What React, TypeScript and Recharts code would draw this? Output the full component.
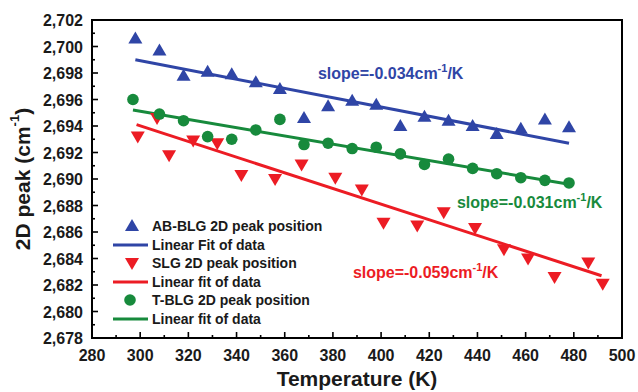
import { ComposedChart, Scatter, Line, XAxis, YAxis, Legend, ReferenceDot, ReferenceArea, Label } from "recharts";

// AB-BLG 2D peak position
const abTemp = [298, 308, 318, 328, 338, 348, 358, 368, 378, 388, 398, 408, 418, 428, 438, 448, 458, 468, 478];
const abPeak = [2700.6, 2699.7, 2697.8, 2698.1, 2697.9, 2697.3, 2696.8, 2694.6, 2695.5, 2695.9, 2695.6, 2694.0, 2694.7, 2694.4, 2694.0, 2693.4, 2693.8, 2694.5, 2693.9];
const abFitTemp = [298, 478];
const abFitPeak = [2699.0, 2692.7];

// SLG 2D peak position
const slgTemp = [299, 307, 312, 322, 332, 342, 356, 367, 381, 392, 401, 415, 426, 439, 451, 461, 472, 486, 492];
const slgPeak = [2693.2, 2694.6, 2691.8, 2692.9, 2692.7, 2690.3, 2690.0, 2691.1, 2690.1, 2689.2, 2686.7, 2686.5, 2687.5, 2686.3, 2684.7, 2684.0, 2682.6, 2683.7, 2682.1];
const slgFitTemp = [298.5, 491.5];
const slgFitPeak = [2694.1, 2682.7];

// T-BLG 2D peak position
const tTemp = [297, 308, 318, 328, 338, 348, 358, 368, 378, 388, 398, 408, 418, 428, 438, 448, 458, 468, 478];
const tPeak = [2696.0, 2694.9, 2694.4, 2693.2, 2693.0, 2693.7, 2694.5, 2692.6, 2692.7, 2692.3, 2692.4, 2691.9, 2691.1, 2691.5, 2690.8, 2690.4, 2690.1, 2689.9, 2689.7];
const tFitTemp = [297, 478];
const tFitPeak = [2695.2, 2689.6];

const xTicks = [280, 290, 300, 310, 320, 330, 340, 350, 360, 370, 380, 390, 400, 410, 420, 430, 440, 450, 460, 470, 480, 490, 500];
const yTicks = [2678, 2679, 2680, 2681, 2682, 2683, 2684, 2685, 2686, 2687, 2688, 2689, 2690, 2691, 2692, 2693, 2694, 2695, 2696, 2697, 2698, 2699, 2700, 2701, 2702];

const legendNames = [
  "AB-BLG 2D peak position",
  "Linear Fit of data",
  "SLG 2D peak position",
  "Linear fit of data",
  "T-BLG 2D peak position",
  "Linear fit of data",
];

const slopes = ["-0.034", "-0.031", "-0.059"];

const BLUE = "#2f45a6";
const RED = "#ec1c24";
const GREEN = "#178a3c";
const INK = "#000";
const FONT = "'Liberation Sans', Arial, sans-serif";

const W = 638;
const H = 392;
const MARGIN = { top: 20, right: 16, bottom: 0, left: 0 };

// let the chart use the whole 638x392 window
if (typeof document !== "undefined") document.body.style.margin = "0";

const toPoints = (xs: number[], ys: number[]) => xs.map((x, i) => ({ x, y: ys[i] }));

const TriUp = (props: any) => {
  const { cx, cy, fill } = props;
  return <path d={`M${cx},${cy - 7} L${cx + 7},${cy + 5} L${cx - 7},${cy + 5} Z`} fill={fill} />;
};
const TriDown = (props: any) => {
  const { cx, cy, fill } = props;
  return <path d={`M${cx},${cy + 7} L${cx + 7},${cy - 5} L${cx - 7},${cy - 5} Z`} fill={fill} />;
};
const Circle = (props: any) => {
  const { cx, cy, fill } = props;
  return <circle cx={cx} cy={cy} r={5.8} fill={fill} />;
};

// tick labels (main chart)
const XLabelTick = (props: any) => {
  const { x, y, payload } = props;
  if (payload.value % 20 !== 0) return <g />;
  return (
    <text x={x} y={y + 23} textAnchor="middle" fontSize={16} fontWeight="bold" fill="#1a1a1a" fontFamily={FONT}>
      {payload.value}
    </text>
  );
};
const YLabelTick = (props: any) => {
  const { x, y, payload } = props;
  if ((payload.value - 2678) % 2 !== 0) return <g />;
  return (
    <text x={x - 9} y={y + 6} textAnchor="end" fontSize={16} fontWeight="bold" fill="#1a1a1a" fontFamily={FONT}>
      {payload.value.toLocaleString("en-US")}
    </text>
  );
};

// inward tick marks (frame chart)
const XMarkTick = (props: any) => {
  const { x, y, payload } = props;
  const len = payload.value % 20 === 0 ? 6 : 3;
  return <path d={`M${x},${y} L${x},${y - len}`} stroke={INK} strokeWidth={1.6} />;
};
const YMarkTick = (props: any) => {
  const { x, y, payload } = props;
  const len = (payload.value - 2678) % 2 === 0 ? 6 : 3;
  return <path d={`M${x},${y} L${x + len},${y}`} stroke={INK} strokeWidth={1.6} />;
};

const slopeText = (value: string, color: string) => (p: any) => (
  <text x={p.cx} y={p.cy + 6} fill={color} fontSize={16} fontWeight="bold" fontFamily={FONT}>
    slope={value}cm
    <tspan dy={-7} fontSize={11}>-1</tspan>
    <tspan dy={7}>/K</tspan>
  </text>
);

const LegendBox = () => {
  const colors = [BLUE, BLUE, RED, RED, GREEN, GREEN];
  return (
    <div style={{ fontFamily: FONT, fontWeight: "bold", fontSize: 14, color: "#1a1a1a" }}>
      {legendNames.map((name, i) => (
        <div key={i} style={{ display: "flex", alignItems: "center", height: 18.5 }}>
          <svg width={44} height={18}>
            {i === 0 && <TriUp cx={24} cy={9} fill={colors[i]} />}
            {i === 2 && <TriDown cx={24} cy={9} fill={colors[i]} />}
            {i === 4 && <Circle cx={22} cy={9} fill={colors[i]} />}
            {i % 2 === 1 && <rect x={5} y={7.5} width={35} height={3} fill={colors[i]} />}
          </svg>
          <span>{name}</span>
        </div>
      ))}
    </div>
  );
};

export default function App() {
  return (
    <div style={{ position: "relative", width: W, height: H }}>
      <ComposedChart width={W} height={H} margin={MARGIN}>
        <XAxis
          type="number"
          dataKey="x"
          domain={[280, 500]}
          ticks={xTicks}
          interval={0}
          tick={<XLabelTick />}
          tickLine={false}
          tickSize={0}
          tickMargin={0}
          height={54}
          axisLine={false}
          allowDataOverflow
        >
          <Label
            content={(p: any) => (
              <text x={p.viewBox.x + p.viewBox.width / 2} y={p.viewBox.y + 48} textAnchor="middle" fontSize={21} fontWeight="bold" fill="#1a1a1a" fontFamily={FONT}>
                Temperature (K)
              </text>
            )}
          />
        </XAxis>
        <YAxis
          type="number"
          dataKey="y"
          domain={[2678, 2702]}
          ticks={yTicks}
          interval={0}
          tick={<YLabelTick />}
          tickLine={false}
          tickSize={0}
          tickMargin={0}
          width={92}
          axisLine={false}
          allowDataOverflow
        >
          <Label
            content={(p: any) => {
              const cx = p.viewBox.x + 22;
              const cy = p.viewBox.y + p.viewBox.height / 2;
              return (
                <text x={cx} y={cy} transform={`rotate(-90 ${cx} ${cy})`} textAnchor="middle" dominantBaseline="central" fontSize={21} fontWeight="bold" fill="#1a1a1a" fontFamily={FONT}>
                  2D peak (cm
                  <tspan dy={-8} fontSize={13}>-1</tspan>
                  <tspan dy={8}>)</tspan>
                </text>
              );
            }}
          />
        </YAxis>

        <Line data={toPoints(abFitTemp, abFitPeak)} dataKey="y" stroke={BLUE} strokeWidth={3} dot={false} isAnimationActive={false} />
        <Line data={toPoints(slgFitTemp, slgFitPeak)} dataKey="y" stroke={RED} strokeWidth={3} dot={false} isAnimationActive={false} />
        <Line data={toPoints(tFitTemp, tFitPeak)} dataKey="y" stroke={GREEN} strokeWidth={3} dot={false} isAnimationActive={false} />

        <Scatter data={toPoints(abTemp, abPeak)} fill={BLUE} shape={<TriUp />} isAnimationActive={false} />
        <Scatter data={toPoints(slgTemp, slgPeak)} fill={RED} shape={<TriDown />} isAnimationActive={false} />
        <Scatter data={toPoints(tTemp, tPeak)} fill={GREEN} shape={<Circle />} isAnimationActive={false} />

        <ReferenceDot x={373.8} y={2698.0} r={0} shape={slopeText(slopes[0], BLUE)} />
        <ReferenceDot x={431.5} y={2688.3} r={0} shape={slopeText(slopes[1], GREEN)} />
        <ReferenceDot x={388.3} y={2683.0} r={0} shape={slopeText(slopes[2], RED)} />

        <Legend layout="vertical" align="center" verticalAlign="middle" content={<LegendBox />} wrapperStyle={{ left: 108, top: 217, width: 260 }} />
      </ComposedChart>

      {/* frame and inward tick marks, same scales, laid over the plot */}
      <div style={{ position: "absolute", left: 0, top: 0, pointerEvents: "none" }}>
        <ComposedChart width={W} height={H} margin={MARGIN}>
          <XAxis type="number" dataKey="x" domain={[280, 500]} ticks={xTicks} interval={0} tick={<XMarkTick />} tickLine={false} tickSize={0} tickMargin={0} height={54} axisLine={{ stroke: INK, strokeWidth: 2 }} />
          <YAxis type="number" dataKey="y" domain={[2678, 2702]} ticks={yTicks} interval={0} tick={<YMarkTick />} tickLine={false} tickSize={0} tickMargin={0} width={92} axisLine={{ stroke: INK, strokeWidth: 2 }} />
          <ReferenceArea x1={280} x2={500} y1={2678} y2={2702} ifOverflow="visible" fill="none" stroke={INK} strokeWidth={2} />
          <Scatter data={toPoints(abTemp, abPeak)} fill="none" isAnimationActive={false} />
        </ComposedChart>
      </div>
    </div>
  );
}
